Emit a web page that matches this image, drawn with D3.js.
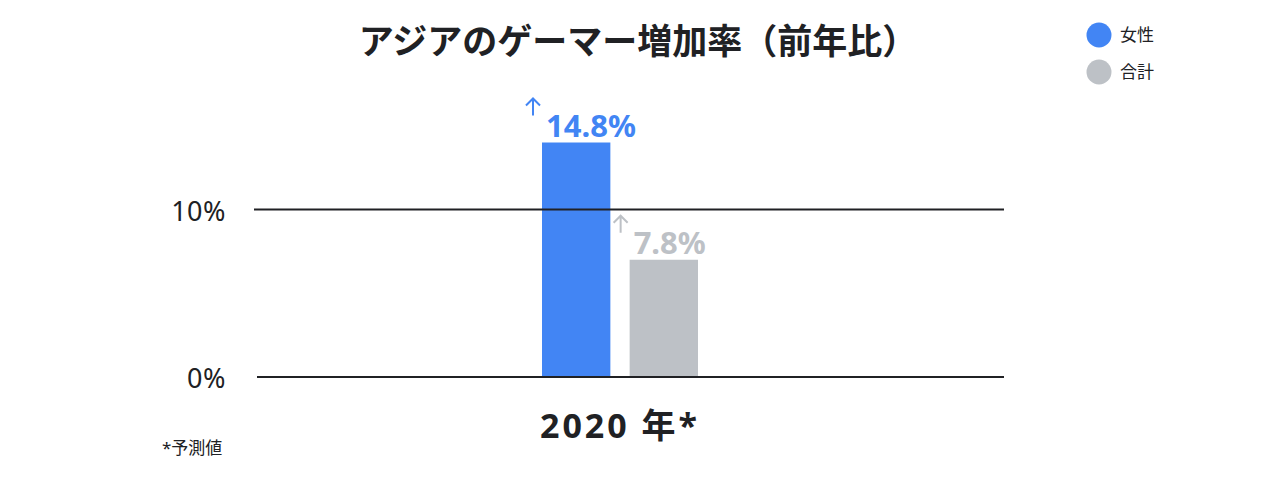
<!DOCTYPE html>
<html><head><meta charset="utf-8">
<script src="https://cdn.jsdelivr.net/npm/d3@7"></script>
<style>
html,body{margin:0;padding:0;background:#fff;}
svg{display:block;}
text{font-family:"Noto Sans","Noto Sans CJK JP",sans-serif;}
</style></head>
<body>
<svg id="chart" width="1280" height="480"></svg>
<script>
const title = "アジアのゲーマー増加率（前年比）";
const categories = ["2020 年*"];
const series = ["女性", "合計"];
const barValues = [14.0, 7.0];          // bar heights as drawn (%)
const valueLabels = ["14.8%", "7.8%"];   // printed labels
const tickValues = [0, 10];
const tickLabels = ["0%", "10%"];
const colors = ["#4285F4", "#BDC1C6"];
const footnote = "*予測値";

const svg = d3.select("#chart");
const y = d3.scaleLinear().domain([0, 10]).range([377, 209.5]);
const x0 = d3.scaleBand().domain(categories).range([235, 1005]);
const cx = x0(categories[0]) + x0.bandwidth()/2;
const x1 = d3.scaleBand().domain(series).paddingInner(0.22).paddingOuter(0)
  .range([cx - 78, cx + 78]);

// title
svg.append("text").attr("x", 638).attr("y", 54).attr("text-anchor", "middle")
  .attr("font-size", 35).attr("font-weight", 700).attr("fill", "#202124")
  .attr("font-family", "'Noto Sans CJK JP',sans-serif").text(title);

// legend
const lg = svg.append("g");
series.forEach((s, i) => {
  lg.append("circle").attr("cx", 1099).attr("cy", 35 + i*37).attr("r", 12.5).attr("fill", colors[i]);
  lg.append("text").attr("x", 1120).attr("y", 41 + i*37).attr("font-size", 17)
    .attr("fill", "#202124").attr("font-family", "'Noto Sans CJK JP',sans-serif").text(s);
});

// bars
svg.selectAll("rect.bar").data(barValues).join("rect").attr("class", "bar")
  .attr("x", (d, i) => x1(series[i])).attr("width", x1.bandwidth())
  .attr("y", d => y(d)).attr("height", d => y(0) - y(d))
  .attr("fill", (d, i) => colors[i]);

// gridlines (drawn over bars)
tickValues.forEach((t, i) => {
  svg.append("line").attr("x1", t === 0 ? 257 : 254).attr("x2", 1004)
    .attr("y1", y(t)).attr("y2", y(t)).attr("stroke", "#202124").attr("stroke-width", 2);
  svg.append("text").attr("x", 226).attr("y", y(t) + 11).attr("text-anchor", "end")
    .attr("font-size", 27).attr("letter-spacing", 0.5).attr("fill", "#202124").text(tickLabels[i]);
});

// value labels with arrows
barValues.forEach((d, i) => {
  const bx = x1(series[i]);
  svg.append("text").attr("x", bx + 4).attr("y", y(d) - 6)
    .attr("font-size", 31).attr("font-weight", 700).attr("fill", colors[i]).text(valueLabels[i]);
  const ax = bx - 9, ay = y(d) - 44;
  svg.append("path").attr("d", `M${ax},${ay+17} V${ay} M${ax-7},${ay+7} L${ax},${ay} L${ax+7},${ay+7}`)
    .attr("fill", "none").attr("stroke", colors[i]).attr("stroke-width", 2);
});

// x category label
svg.append("text").attr("x", cx).attr("y", 438)
  .attr("text-anchor", "middle").attr("font-size", 34).attr("font-weight", 700)
  .attr("letter-spacing", 3).attr("fill", "#202124").text(categories[0]);

// footnote
svg.append("text").attr("x", 162).attr("y", 454).attr("font-size", 17)
  .attr("fill", "#202124").attr("font-family", "'Noto Sans CJK JP',sans-serif").text(footnote);
</script>
</body></html>
